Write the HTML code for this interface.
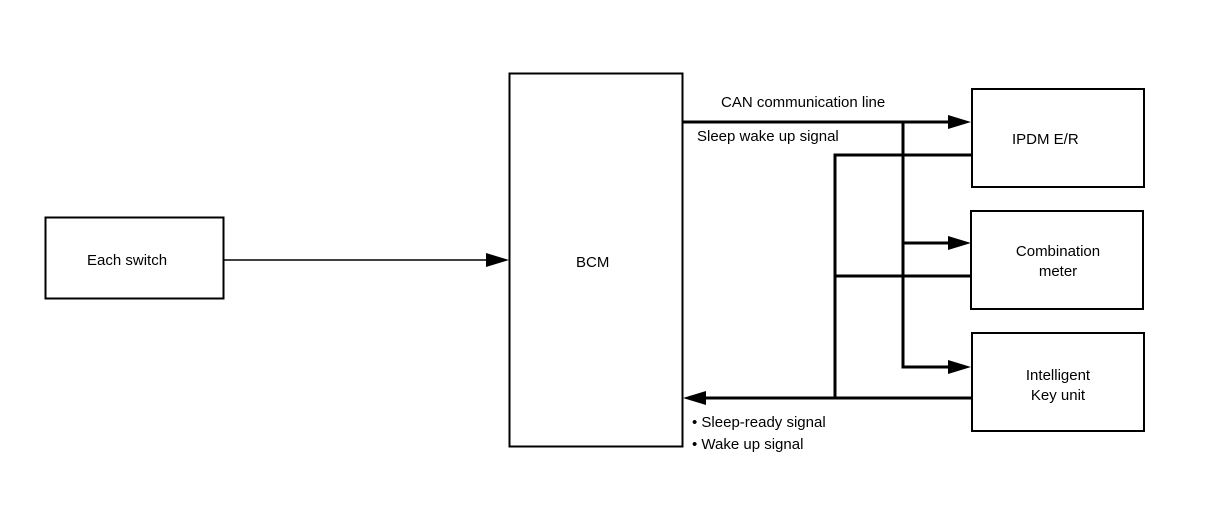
<!DOCTYPE html>
<html><head><style>
body{margin:0;background:#fff}
svg{display:block}
text{font-family:"Liberation Sans",sans-serif;font-size:15px;fill:#000}
</style></head><body>
<svg width="1216" height="512" viewBox="0 0 1216 512">
<g fill="none" stroke="#000">
<rect x="45.5" y="217.5" width="178" height="81" stroke-width="2"/>
<rect x="509.5" y="73.5" width="173" height="373" stroke-width="2"/>
<rect x="972" y="89" width="172" height="98" stroke-width="2"/>
<rect x="971" y="211" width="172" height="98" stroke-width="2"/>
<rect x="972" y="333" width="172" height="98" stroke-width="2"/>
<line x1="224" y1="260" x2="490" y2="260" stroke-width="1.5"/>
<g stroke-width="3">
<line x1="682" y1="122" x2="952" y2="122"/>
<polyline points="903,122 903,367 952,367"/>
<line x1="903" y1="243" x2="952" y2="243"/>
<polyline points="971,155 835,155 835,398"/>
<line x1="835" y1="276" x2="971" y2="276"/>
<line x1="971" y1="398" x2="702" y2="398"/>
</g>
</g>
<g fill="#000">
<polygon points="509,260 486,253 486,267"/>
<polygon points="971,122 948,115 948,129"/>
<polygon points="971,243 948,236 948,250"/>
<polygon points="971,367 948,360 948,374"/>
<polygon points="683,398 706,391 706,405"/>
</g>
<text x="87" y="265">Each switch</text>
<text x="576" y="267">BCM</text>
<text x="721" y="107">CAN communication line</text>
<text x="697" y="141">Sleep wake up signal</text>
<text x="1012" y="144">IPDM E/R</text>
<text x="1058" y="256" text-anchor="middle">Combination</text>
<text x="1058" y="276" text-anchor="middle">meter</text>
<text x="1058" y="380" text-anchor="middle">Intelligent</text>
<text x="1058" y="400" text-anchor="middle">Key unit</text>
<text x="692" y="427">• Sleep-ready signal</text>
<text x="692" y="449">• Wake up signal</text>
</svg>
</body></html>
